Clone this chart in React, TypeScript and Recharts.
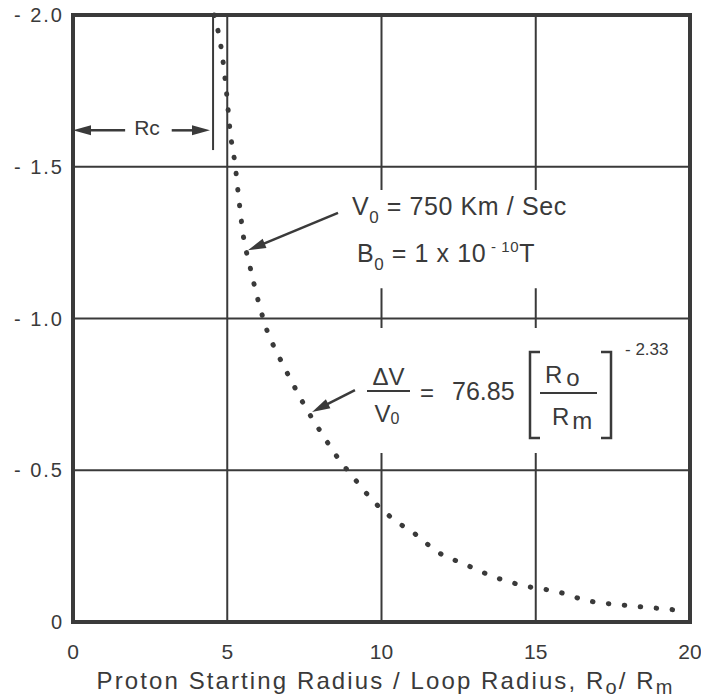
import React from "react";
import {
  CartesianGrid,
  Line,
  LineChart,
  ReferenceArea,
  ReferenceDot,
  ReferenceLine,
  XAxis,
  YAxis,
} from "recharts";

// Proton starting radius / loop radius (Ro/Rm) and fractional velocity change ΔV/V0
const RADIUS_RATIO = [
  4.58, 4.86, 4.99, 5.09, 5.25, 5.38, 5.51, 5.74, 6.0, 6.29, 6.65, 7.1, 7.58, 8.07,
  8.59, 9.14, 9.72, 10.37, 11.09, 11.83, 12.71, 13.61, 14.59, 15.69, 16.69, 17.8,
  18.87, 19.51,
];
const DELTA_V = [
  -2.0, -1.85, -1.73, -1.62, -1.51, -1.39, -1.28, -1.17, -1.06, -0.96, -0.88, -0.79,
  -0.7, -0.62, -0.54, -0.47, -0.4, -0.34, -0.29, -0.23, -0.19, -0.15, -0.12, -0.1,
  -0.07, -0.056, -0.046, -0.04,
];
const X_TICKS = [0, 5, 10, 15, 20];
const Y_TICKS = [-2, -1.5, -1, -0.5, 0];

// Rc: critical radius marker
const RC = 4.54;

const data = RADIUS_RATIO.map((r, i) => ({ r, dv: DELTA_V[i] }));

const INK = "#3a3a3a";
const FONT = "'Liberation Sans', Arial, sans-serif";

const fmtY = (v: number) => (v === 0 ? "0" : `- ${Math.abs(v).toFixed(1)}`);

function ArrowShape(props: any) {
  const { x1, y1, x2, y2 } = props;
  const dx = x2 - x1;
  const dy = y2 - y1;
  const len = Math.hypot(dx, dy) || 1;
  const ux = dx / len;
  const uy = dy / len;
  const L = 18;
  const W = 5;
  const bx = x2 - ux * L;
  const by = y2 - uy * L;
  const pts = `${x2},${y2} ${bx - uy * W},${by + ux * W} ${bx + uy * W},${by - ux * W}`;
  return (
    <g>
      <line x1={x1} y1={y1} x2={bx + ux * 2} y2={by + uy * 2} stroke={INK} strokeWidth={2.5} />
      <polygon points={pts} fill={INK} />
    </g>
  );
}

function ConditionsLabel({ viewBox }: any) {
  const { x, y } = viewBox;
  return (
    <g fill={INK} fontFamily={FONT}>
      <text x={x} y={y} fontSize={25} letterSpacing={0.6}>
        V
        <tspan fontSize={17} dy={8}>0</tspan>
        <tspan dy={-8} fontSize={25}> = 750 Km / Sec</tspan>
      </text>
      <text x={x + 5} y={y + 47} fontSize={25} letterSpacing={0.6}>
        B
        <tspan fontSize={17} dy={8}>0</tspan>
        <tspan dy={-8} fontSize={25}> = 1 x 10</tspan>
        <tspan fontSize={15} dy={-10}> - 10</tspan>
        <tspan dy={10} fontSize={25}>T</tspan>
      </text>
    </g>
  );
}

function FormulaLabel({ viewBox }: any) {
  const { x, y } = viewBox;
  return (
    <g fill={INK} fontFamily={FONT}>
      <text x={x + 21.5} y={y - 6} fontSize={24} textAnchor="middle">ΔV</text>
      <line x1={x} x2={x + 43} y1={y} y2={y} stroke={INK} strokeWidth={2} />
      <text x={x + 20} y={y + 31} fontSize={24} textAnchor="middle">
        V<tspan fontSize={16} dy={2}>0</tspan>
      </text>
      <text x={x + 53} y={y + 10} fontSize={24}>=</text>
      <text x={x + 85} y={y + 9} fontSize={25}>76.85</text>
      <path
        d={`M${x + 173},${y - 39} H${x + 163} V${y + 47} H${x + 173}`}
        fill="none"
        stroke={INK}
        strokeWidth={2.5}
      />
      <text x={x + 178} y={y - 8} fontSize={24}>
        R<tspan dx={4} dy={3}>o</tspan>
      </text>
      <line x1={x + 173} x2={x + 230} y1={y + 2} y2={y + 2} stroke={INK} strokeWidth={2} />
      <text x={x + 185} y={y + 34} fontSize={24}>
        R<tspan dx={3} dy={4}>m</tspan>
      </text>
      <path
        d={`M${x + 234},${y - 39} H${x + 244} V${y + 47} H${x + 234}`}
        fill="none"
        stroke={INK}
        strokeWidth={2.5}
      />
      <text x={x + 258} y={y - 36} fontSize={17}>- 2.33</text>
    </g>
  );
}

function RcLabel({ viewBox }: any) {
  const { x, y } = viewBox;
  return (
    <text x={x} y={y} fontSize={21} textAnchor="middle" fill={INK} fontFamily={FONT}>
      Rc
    </text>
  );
}

function AxisTitle({ viewBox }: any) {
  const { x, y, width } = viewBox;
  return (
    <text
      x={x + width / 2 + 4}
      y={y + 67}
      textAnchor="middle"
      fontSize={24}
      letterSpacing={2.1}
      fill={INK}
      fontFamily={FONT}
    >
      Proton Starting Radius / Loop Radius,{"  "}R
      <tspan fontSize={20} dy={5}>o</tspan>
      <tspan fontSize={24} dy={-5}>/ R</tspan>
      <tspan fontSize={20} dy={5}>m</tspan>
    </text>
  );
}

export default function App() {
  return (
    <div style={{ position: "absolute", left: 0, top: 0, background: "#fff" }}>
      <LineChart
        width={701}
        height={699}
        data={data}
        margin={{ top: 15, right: 11, bottom: 0, left: 0 }}
      >
        <CartesianGrid stroke={INK} strokeWidth={2} />
        <XAxis
          type="number"
          dataKey="r"
          domain={[0, 20]}
          ticks={X_TICKS}
          height={77}
          tickSize={0}
          tickMargin={22}
          axisLine={false}
          tick={{ fontSize: 21, fill: INK, fontFamily: FONT }}
          label={{ content: (p: any) => <AxisTitle {...p} /> }}
        />
        <YAxis
          type="number"
          domain={[-2, 0]}
          ticks={Y_TICKS}
          reversed
          width={73}
          tickSize={0}
          tickMargin={9}
          axisLine={false}
          tickFormatter={fmtY}
          tick={{ fontSize: 20, fill: INK, fontFamily: FONT, letterSpacing: 2 }}
        />
        <ReferenceArea x1={8.82} x2={17.41} y1={-1.423} y2={-1.1} fill="#fff" fillOpacity={1} stroke="none" />
        <ReferenceArea x1={8.82} x2={19.9} y1={-0.969} y2={-0.557} fill="#fff" fillOpacity={1} stroke="none" />
        <Line
          type="monotone"
          dataKey="dv"
          stroke={INK}
          strokeWidth={5}
          strokeLinecap="round"
          strokeDasharray="0.5 15.5"
          dot={false}
          isAnimationActive={false}
        />
        <ReferenceLine
          segment={[{ x: RC, y: -2 }, { x: RC, y: -1.555 }]}
          stroke={INK}
          strokeWidth={2}
        />
        <ReferenceLine segment={[{ x: 1.69, y: -1.62 }, { x: 0, y: -1.62 }]} shape={ArrowShape} />
        <ReferenceLine segment={[{ x: 3.2, y: -1.62 }, { x: 4.44, y: -1.62 }]} shape={ArrowShape} />
        <ReferenceLine segment={[{ x: 8.59, y: -1.348 }, { x: 5.67, y: -1.225 }]} shape={ArrowShape} />
        <ReferenceLine segment={[{ x: 9.14, y: -0.764 }, { x: 7.75, y: -0.692 }]} shape={ArrowShape} />
        <ReferenceDot x={2.4} y={-1.605} r={0} fill="none" stroke="none" label={{ content: (p: any) => <RcLabel {...p} /> }} />
        <ReferenceDot x={9.04} y={-1.341} r={0} fill="none" stroke="none" label={{ content: (p: any) => <ConditionsLabel {...p} /> }} />
        <ReferenceDot x={9.53} y={-0.761} r={0} fill="none" stroke="none" label={{ content: (p: any) => <FormulaLabel {...p} /> }} />
        <ReferenceArea x1={0} x2={20} y1={-2} y2={0} fill="none" stroke={INK} strokeWidth={4} />
      </LineChart>
    </div>
  );
}
